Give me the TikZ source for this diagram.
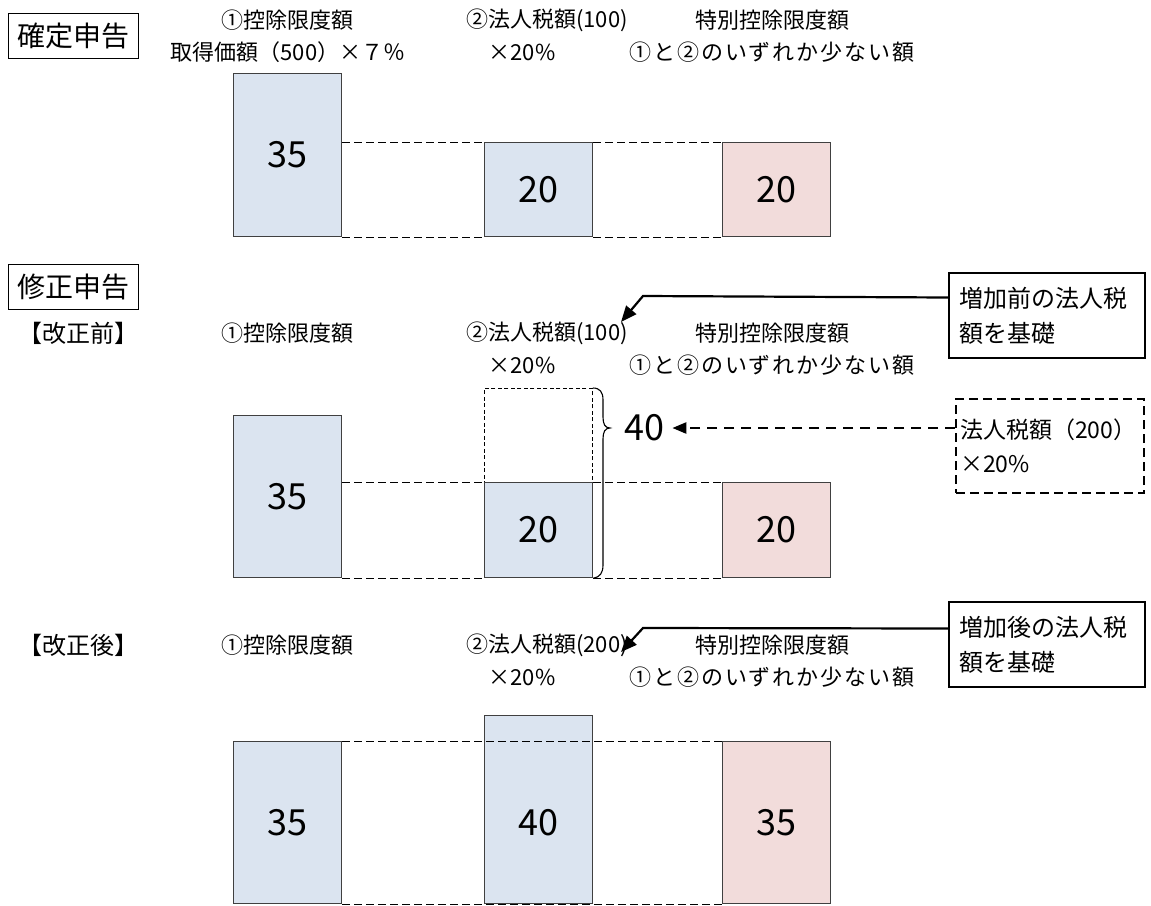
\documentclass[tikz,border=0pt]{standalone}
\usepackage{fontspec}
\setmainfont{Noto Sans CJK JP}
\usetikzlibrary{arrows.meta}
\definecolor{boxblue}{RGB}{219,228,240}
\definecolor{boxpink}{RGB}{242,220,219}
\definecolor{edgegray}{RGB}{64,64,64}
\tikzset{
  bar/.style={draw=edgegray, line width=1.3pt, inner sep=0pt, anchor=north west, minimum width=108pt},
  bluebar/.style={bar, fill=boxblue},
  pinkbar/.style={bar, fill=boxpink},
  ghostbar/.style={draw=black, dash pattern=on 4pt off 2.5pt, line width=0.8pt, inner sep=0pt, anchor=north west, minimum width=108pt},
  guide/.style={draw=black, dash pattern=on 8pt off 4pt, line width=0.9pt},
  lbl/.style={font=\fontsize{22}{26}\selectfont, inner sep=0pt},
  widelbl/.style={font=\fontsize{22}{26}\selectfont\addfontfeature{LetterSpace=9}, inner sep=0pt},
  sectlbl/.style={font=\fontsize{24}{28}\selectfont, inner sep=0pt},
  num/.style={font=\fontsize{36}{40}\selectfont, inner sep=0pt},
  titlebox/.style={draw=black, line width=0.8pt, font=\fontsize{28}{30}\selectfont, anchor=north west, minimum width=130pt, minimum height=45pt, inner sep=0pt},
  notebox/.style={draw=black, line width=2pt, anchor=north west, minimum width=195pt, minimum height=85pt, text width=176pt, align=left, inner xsep=10pt, font=\fontsize{24}{35}\selectfont},
  dnotebox/.style={draw=black, line width=2.2pt, dash pattern=on 9pt off 5pt, anchor=north west, minimum width=188pt, minimum height=94pt, text width=180pt, align=left, inner xsep=4pt, font=\fontsize{23}{34}\selectfont},
  callout/.style={draw=black, line width=2.2pt, -{Triangle[length=16pt,width=13pt]}},
  dcallout/.style={draw=black, line width=2.4pt, dash pattern=on 10pt off 7pt, -{Triangle[length=14pt,width=11pt]}}
}
\begin{document}
\begin{tikzpicture}[x=1pt,y=-1pt]
\useasboundingbox (0,0) rectangle (1151,905);

% ---------- Section 1 ----------
\node[titlebox] (t1) at (8,13) {確定申告};
\node[lbl] (s1a) at (287,20) {①控除限度額};
\node[lbl] (s1b) at (288,52) {取得価額（500）×７％};
\node[lbl, anchor=west] (s1c) at (466,20) {②法人税額(100)};
\node[lbl] (s1d) at (522,52) {×20\%};
\node[lbl] (s1e) at (772,20) {特別控除限度額};
\node[widelbl] (s1f) at (772,52) {①と②のいずれか少ない額};

\node[bluebar, minimum height=163pt] (a1) at (233,73) {};
\node[bluebar, minimum height=94pt] (a2) at (484,142) {};
\node[pinkbar, minimum height=94pt] (a3) at (722,142) {};
\node[num] (na1) at (a1.center) {35};
\node[num] (na2) at (a2.center) {20};
\node[num] (na3) at (a3.center) {20};
\draw[guide] (a1.east |- a2.north) -- (a2.north west);
\draw[guide] (a2.north east) -- (a3.north west);
\draw[guide] (a1.south east) -- (a2.south west);
\draw[guide] (a2.south east) -- (a3.south west);

% ---------- Section 2 ----------
\node[titlebox] (t2) at (8,264) {修正申告};
\node[sectlbl] (s2z) at (78,333) {【改正前】};
\node[lbl] (s2a) at (287,333) {①控除限度額};
\node[lbl, anchor=west] (s2c) at (466,333) {②法人税額(100)};
\node[lbl] (s2d) at (522,365) {×20\%};
\node[lbl] (s2e) at (772,333) {特別控除限度額};
\node[widelbl] (s2f) at (772,365) {①と②のいずれか少ない額};

\node[ghostbar, minimum height=94pt] (g2) at (484,388) {};
\node[bluebar, minimum height=162pt] (b1) at (233,415) {};
\node[bluebar, minimum height=95pt] (b2) at (484,482) {};
\node[pinkbar, minimum height=95pt] (b3) at (722,482) {};
\node[num] (nb1) at (b1.center) {35};
\node[num] (nb2) at (b2.center) {20};
\node[num] (nb3) at (b3.center) {20};
\draw[guide] (b1.east |- b2.north) -- (b2.north west);
\draw[guide] (b2.north east) -- (b3.north west);
\draw[guide] (b1.south east) -- (b2.south west);
\draw[guide] (b2.south east) -- (b3.south west);

% brace
\draw[line width=1.1pt] (g2.north east) .. controls (600,388) and (603,392) .. (603,400)
  -- (603,417) .. controls (603,424) and (605,428) .. (610,428)
  .. controls (605,428) and (603,432) .. (603,439)
  -- (603,565) .. controls (603,573) and (600,577) .. (b2.south east);
\node[num, anchor=west] (forty) at (624,428) {40};

\node[notebox] (n1) at (948,272) {増加前の法人税\\額を基礎};
\node[dnotebox] (d1) at (955,398) {法人税額（200）\\×20\%};
\draw[callout] ([yshift=18pt]n1.west) -- (643,296) -- (621,322);
\draw[dcallout] (d1.west |- forty) -- ([xshift=8pt]forty.east);

% ---------- Section 3 ----------
\node[sectlbl] (s3z) at (78,645) {【改正後】};
\node[lbl] (s3a) at (287,645) {①控除限度額};
\node[lbl, anchor=west] (s3c) at (466,645) {②法人税額(200)};
\node[lbl] (s3d) at (522,677) {×20\%};
\node[lbl] (s3e) at (772,645) {特別控除限度額};
\node[widelbl] (s3f) at (772,677) {①と②のいずれか少ない額};

\node[bluebar, minimum height=162pt] (c1) at (233,741) {};
\node[bluebar, minimum height=188pt] (c2) at (484,715) {};
\node[pinkbar, minimum height=162pt] (c3) at (722,741) {};
\node[num] (nc1) at (c1.center) {35};
\node[num] (nc2) at (c2.center |- c1.center) {40};
\node[num] (nc3) at (c3.center) {35};
\draw[guide] (c1.north east) -- (c3.north west);
\draw[guide] (c1.south east) -- (c3.south west);

\node[notebox] (n2) at (948,601) {増加後の法人税\\額を基礎};
\draw[callout] ([yshift=16pt]n2.west) -- (643,628) -- (621,652);
\end{tikzpicture}
\end{document}
